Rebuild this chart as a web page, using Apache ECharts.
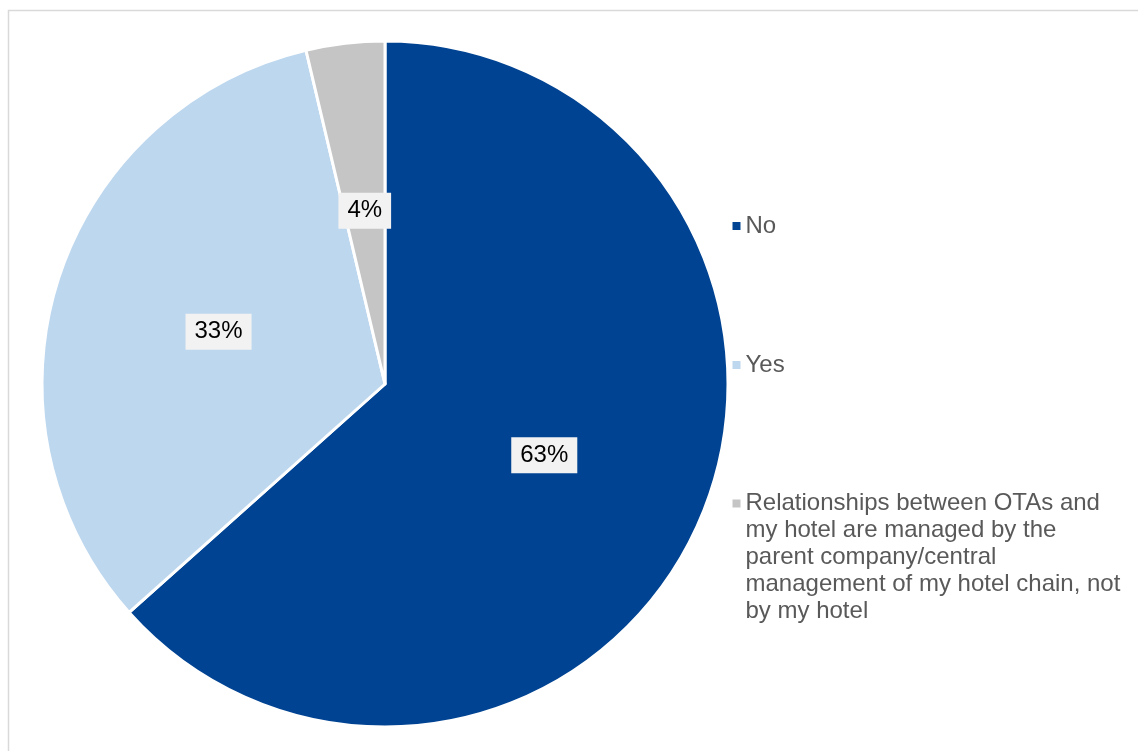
<!DOCTYPE html>
<html>
<head>
<meta charset="utf-8">
<title>OTA relationships</title>
<script src="https://cdn.jsdelivr.net/npm/echarts@6/dist/echarts.min.js"></script>
<style>
  html, body { margin: 0; padding: 0; background: #ffffff; }
  #chart { width: 1138px; height: 751px; }
</style>
</head>
<body>
<div id="chart"></div>
<script>
// Survey answers (share of respondents, %)
const categories = [
  'No',
  'Yes',
  'Relationships between OTAs and\nmy hotel are managed by the\nparent company/central\nmanagement of my hotel chain, not\nby my hotel'
];
const shares = [63.4, 32.9, 3.7];
const sliceColors = ['#004392', '#bdd7ee', '#c5c5c5'];

const FONT = '"Liberation Sans", Arial, Helvetica, sans-serif';
const LEGEND_LINE = 27;

const chart = echarts.init(document.getElementById('chart'), null, { renderer: 'canvas' });

// One legend block per answer; multi-line entries get a tall icon box whose
// visible square sits beside the first text line.
function legendFor(idx, top) {
  const lines = categories[idx].split('\n').length;
  const boxH = lines * LEGEND_LINE;
  const icon = lines > 1
    ? 'path://M0,' + (LEGEND_LINE / 2 - 4) + 'h8v8h-8z M0,0h8 M0,' + boxH + 'h8'
    : 'rect';
  return {
    data: [{ name: categories[idx], icon: icon }],
    orient: 'vertical',
    left: 732.5,
    top: top,
    padding: 0,
    itemWidth: 8,
    itemHeight: lines > 1 ? boxH : 8,
    itemGap: 0,
    selectedMode: false,
    itemStyle: { borderWidth: 0 },
    textStyle: {
      color: '#595959',
      fontSize: 24,
      fontFamily: FONT,
      lineHeight: LEGEND_LINE
    }
  };
}

chart.setOption({
  animation: false,
  backgroundColor: '#ffffff',
  graphic: [{
    type: 'rect',
    shape: { x: 8.5, y: 10.5, width: 1300, height: 900 },
    style: { fill: 'none', stroke: '#d9d9d9', lineWidth: 1.5 },
    silent: true,
    z: -10
  }],
  legend: [
    legendFor(0, 212.5),
    legendFor(1, 351.5),
    legendFor(2, 490)
  ],
  series: [{
    type: 'pie',
    center: [385, 384],
    radius: [0, 343],
    startAngle: 90,
    clockwise: true,
    avoidLabelOverlap: false,
    emphasis: { disabled: true },
    itemStyle: { borderColor: '#ffffff', borderWidth: 3 },
    label: {
      show: true,
      position: 'inside',
      formatter: p => Math.round(p.value) + '%',
      color: '#000000',
      fontSize: 24,
      fontFamily: FONT,
      lineHeight: 24,
      backgroundColor: '#f2f2f2',
      padding: [6, 9, 6, 9]
    },
    labelLine: { show: false },
    data: categories.map((name, i) => ({
      name: name,
      value: shares[i],
      itemStyle: { color: sliceColors[i] }
    }))
  }]
});
</script>
</body>
</html>
